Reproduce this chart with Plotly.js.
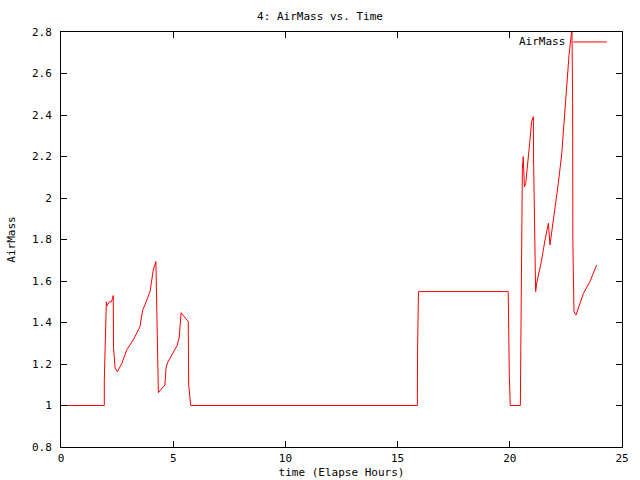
<!DOCTYPE html>
<html>
<head>
<meta charset="utf-8">
<script src="https://cdn.plot.ly/plotly-3.0.1.min.js"></script>
<style>html,body{margin:0;padding:0;background:#fff}#chart{width:640px;height:480px}</style>
</head>
<body>
<div id="chart"></div>
<script>
var timeHours = [0, 1.93, 1.93, 2.00, 2.02, 2.05, 2.15, 2.25, 2.30, 2.33, 2.34, 2.41, 2.51, 2.70, 2.93, 3.22, 3.52, 3.64, 3.74, 3.97, 4.11, 4.23, 4.31, 4.34, 4.63, 4.68, 4.74, 5.18, 5.27, 5.35, 5.67, 5.69, 5.78,
  15.88, 15.89, 15.93, 19.93, 19.94, 19.98, 20.02, 20.47, 20.49, 20.53, 20.56, 20.60, 20.65, 20.71, 20.80, 20.90, 20.97, 21.05, 21.06, 21.12, 21.15, 21.20, 21.42, 21.57, 21.72, 21.79, 22.01, 22.16, 22.31, 22.42, 22.54, 22.64, 22.73, 22.77, 22.80, 22.81, 22.86, 22.95, 23.28, 23.57, 23.87];
var airMass = [1.0, 1.0, 1.12, 1.37, 1.50, 1.48, 1.50, 1.50, 1.52, 1.53, 1.28, 1.18, 1.163, 1.20, 1.268, 1.316, 1.38, 1.46, 1.484, 1.55, 1.653, 1.693, 1.219, 1.062, 1.099, 1.18, 1.205, 1.29, 1.33, 1.447, 1.404, 1.099, 1.0,
  1.0, 1.272, 1.549, 1.549, 1.412, 1.139, 1.0, 1.0, 1.268, 1.806, 2.143, 2.199, 2.054, 2.07, 2.19, 2.28, 2.368, 2.392, 2.183, 1.759, 1.549, 1.59, 1.701, 1.798, 1.878, 1.774, 1.942, 2.07, 2.207, 2.384, 2.553, 2.689, 2.777, 2.82, 2.456, 1.782, 1.452, 1.436, 1.54, 1.597, 1.677];
var seriesName = "AirMass";
var xTicks = [0, 5, 10, 15, 20, 25];
var yTicks = [0.8, 1, 1.2, 1.4, 1.6, 1.8, 2, 2.2, 2.4, 2.6, 2.8];

var font = {family: "DejaVu Sans Mono", size: 11, color: "#000"};

var trace = {
  x: timeHours, y: airMass, type: "scatter", mode: "lines",
  name: seriesName, line: {color: "#ff0000", width: 1}, showlegend: false
};

var axisCommon = {
  showgrid: false, zeroline: false, showline: true, linecolor: "#000", linewidth: 1,
  mirror: "allticks", ticks: "inside", ticklen: 6, tickcolor: "#000", tickwidth: 1,
  tickfont: font, fixedrange: true
};

var layout = {
  width: 640, height: 480,
  margin: {l: 61, r: 18, t: 32, b: 33},
  paper_bgcolor: "#fff", plot_bgcolor: "#fff",
  font: font,
  title: {text: "4: AirMass vs. Time", font: font, x: 0.5, xanchor: "center", y: 1 - 16/480, yanchor: "middle"},
  xaxis: Object.assign({}, axisCommon, {
    range: [0, 25], tickmode: "array", tickvals: xTicks, ticklabelstandoff: 1,
    title: {text: "time (Elapse Hours)", font: font, standoff: 4}
  }),
  yaxis: Object.assign({}, axisCommon, {
    range: [0.8, 2.8], tickmode: "array", tickvals: yTicks, ticklabelstandoff: 6,
    title: {text: "AirMass", font: font, standoff: 14}
  }),
  showlegend: false,
  annotations: [{
    xref: "paper", yref: "paper", x: 0.902, y: 0.976, xanchor: "right", yanchor: "middle",
    text: seriesName, showarrow: false, font: font
  }],
  shapes: [{
    type: "line", xref: "paper", yref: "paper", x0: 0.913, x1: 0.973, y0: 0.976, y1: 0.976,
    line: {color: "#ff0000", width: 1}
  }]
};

Plotly.newPlot("chart", [trace], layout, {staticPlot: true, displayModeBar: false});
</script>
</body>
</html>
